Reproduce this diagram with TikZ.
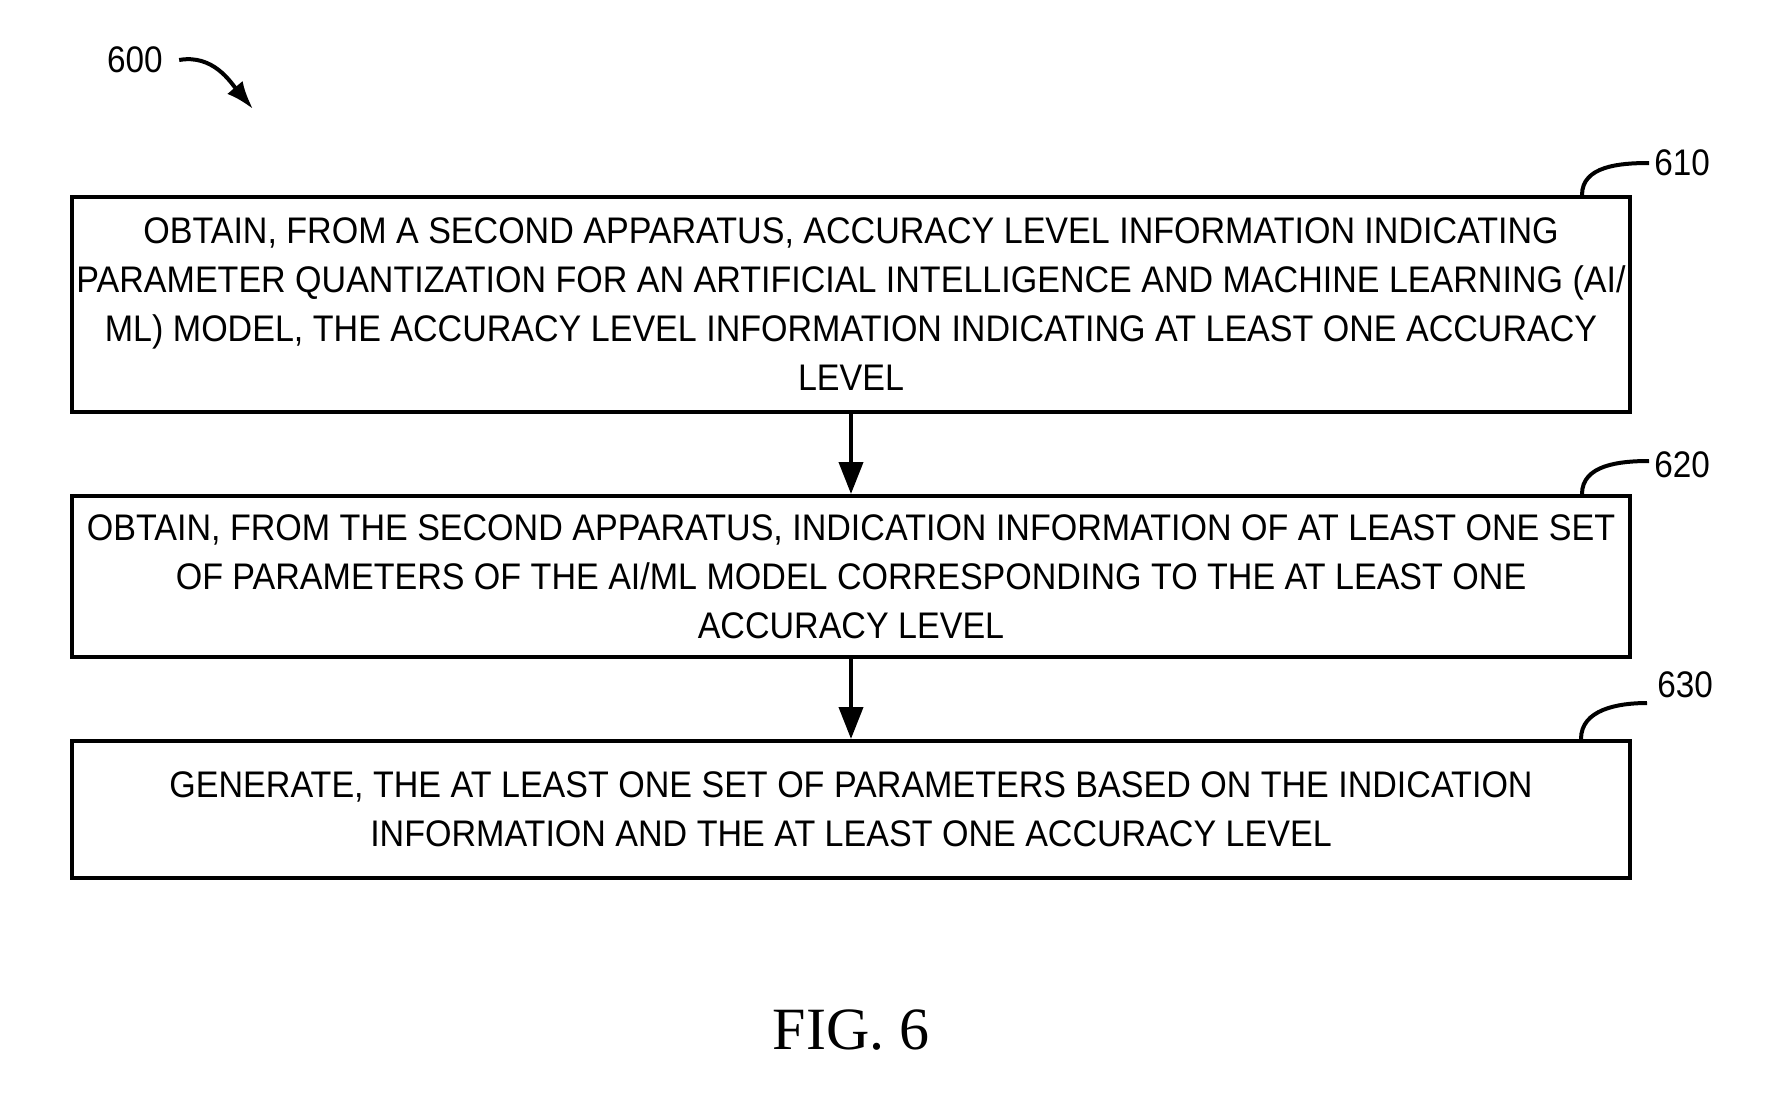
\documentclass[tikz,border=0pt]{standalone}
\usepackage{fontspec}
\setmainfont{Liberation Sans}
\newfontfamily\boxfont{Liberation Sans}[FakeStretch=0.92]
\newfontfamily\reffont{Liberation Sans}[FakeStretch=0.9]
\newfontfamily\figfont{Liberation Serif}
\usetikzlibrary{positioning,arrows.meta}

\begin{document}
\begin{tikzpicture}[
            x=0.5pt, y=-0.5pt,
            stepbox/.style={draw,line width=2pt,rectangle,minimum width=779pt,align=center,inner sep=0pt,
                font=\boxfont\fontsize{18.5}{24.5}\selectfont},
            ref/.style={inner sep=0pt,font=\reffont\fontsize{18.5}{22}\selectfont},
            flow/.style={-{Triangle[length=16pt,width=12pt]},line width=2pt},
            lead/.style={line width=2pt}
        ]

        \useasboundingbox (0,0) rectangle (1785,1104);

        \tikzset{
            node distance=40pt,
        }

        \node[stepbox,minimum height=107.5pt] (obtainacc) at (851,304.5)
            {OBTAIN, FROM A SECOND APPARATUS, ACCURACY LEVEL INFORMATION INDICATING\\
             PARAMETER QUANTIZATION FOR AN ARTIFICIAL INTELLIGENCE AND MACHINE LEARNING (AI/\\
             ML) MODEL, THE ACCURACY LEVEL INFORMATION INDICATING AT LEAST ONE ACCURACY\\
             LEVEL};
        \node[stepbox,minimum height=80.5pt,below=of obtainacc] (obtainind)
            {OBTAIN, FROM THE SECOND APPARATUS, INDICATION INFORMATION OF AT LEAST ONE SET\\
             OF PARAMETERS OF THE AI/ML MODEL CORRESPONDING TO THE AT LEAST ONE\\
             ACCURACY LEVEL};
        \node[stepbox,minimum height=68.5pt,below=of obtainind] (generate)
            {GENERATE, THE AT LEAST ONE SET OF PARAMETERS BASED ON THE INDICATION\\
             INFORMATION AND THE AT LEAST ONE ACCURACY LEVEL};

        \draw[flow]
            (obtainacc) edge (obtainind)
            (obtainind) edge (generate)
        ;

        % reference numerals
        \node[ref] (n600) at (135,60) {600};
        \coordinate (a600) at (253,109);
        \draw[-{Latex[length=14pt,width=10pt]},line width=2pt] ([xshift=8pt]n600.east) to[out=10,in=130] (a600);

        \node[ref,anchor=west] (n610) at ([xshift=11pt,yshift=16pt]obtainacc.north east) {610};
        \node[ref,anchor=west] (n620) at ([xshift=11pt,yshift=14.5pt]obtainind.north east) {620};
        \node[ref,anchor=west] (n630) at ([xshift=12.5pt,yshift=27pt]generate.north east) {630};

        \coordinate (c610) at ([xshift=-25pt]obtainacc.north east);
        \coordinate (c620) at ([xshift=-25pt]obtainind.north east);
        \coordinate (c630) at ([xshift=-25.5pt]generate.north east);

        \draw[lead] (c610) to[out=90,in=180] ([xshift=-2.5pt]n610.west);
        \draw[lead] (c620) to[out=90,in=180] ([xshift=-2.5pt,yshift=2pt]n620.west);
        \draw[lead] (c630) to[out=90,in=180] ([xshift=-5pt,yshift=-9pt]n630.west);

        \node[font=\figfont\fontsize{30}{36}\selectfont] (fig) at (851,1030) {FIG. 6};

\end{tikzpicture}
\end{document}
